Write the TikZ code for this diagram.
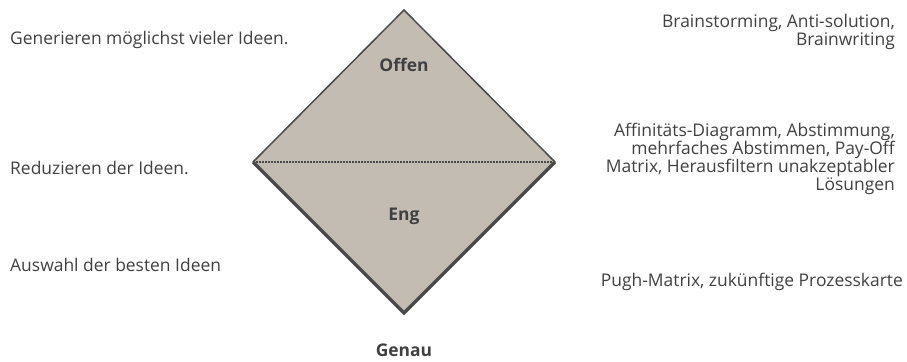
\documentclass[tikz,border=0pt]{standalone}
\usepackage{fontspec}
\setmainfont{Open Sans}
\definecolor{raute}{HTML}{C2BCB2}
\definecolor{kante}{HTML}{4A4A4A}
\definecolor{schrift}{HTML}{404040}
\tikzset{
  phase/.style={anchor=west, text=schrift, inner sep=0pt, font=\fontsize{17.5}{18}\selectfont},
  methode/.style={anchor=east, align=right, text=schrift, inner sep=0pt, font=\fontsize{17.5}{18}\selectfont},
  stufe/.style={text=schrift, inner sep=0pt, font=\bfseries\fontsize{17.5}{18}\selectfont},
}

\begin{document}
\begin{tikzpicture}[x=1bp, y=-1bp]
  \useasboundingbox (0,0) rectangle (907,361);
  \coordinate (oben) at (404,10);
  \coordinate (links) at (253,162);
  \coordinate (rechts) at (555,162);
  \coordinate (unten) at (404,313);
  \fill[raute] (oben) -- (rechts) -- (unten) -- (links) -- cycle;
  \draw[kante, line width=1.5bp] (links) -- (oben) -- (rechts);
  \draw[kante, line width=3.5bp] (links) -- (unten) -- (rechts);
  \draw[kante, line width=1.5bp, dash pattern=on 1.5bp off 1.5bp] (links) -- (rechts);

  \node[stufe] (offen) at (404,65) {Offen};
  \node[stufe] (eng) at (404,216) {Eng};
  \node[stufe] (genau) at (404,350) {Genau};

  \node[phase] (generieren) at (10,40) {Generieren möglichst vieler Ideen.};
  \node[phase] (reduzieren) at (10,168) {Reduzieren der Ideen.};
  \node[phase] (auswahl) at (10,265) {Auswahl der besten Ideen};

  \node[methode] (brain) at (895,32) {Brainstorming, Anti-solution,\\Brainwriting};
  \node[methode] (affin) at (895,159) {Affinitäts-Diagramm, Abstimmung,\\mehrfaches Abstimmen, Pay-Off\\Matrix, Herausfiltern unakzeptabler\\Lösungen};
  \node[methode] (pugh) at (903,282) {Pugh-Matrix, zukünftige Prozesskarte};
\end{tikzpicture}
\end{document}
